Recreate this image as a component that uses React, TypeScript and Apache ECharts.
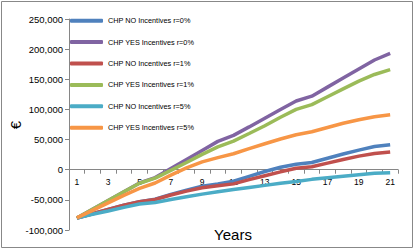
import React, { useEffect, useRef } from "react";
import * as echarts from "echarts";

const years = ["1","2","3","4","5","6","7","8","9","10","11","12","13","14","15","16","17","18","19","20","21"];

const seriesNames = [
  "CHP NO Incentives r=0%",
  "CHP YES Incentives r=0%",
  "CHP NO Incentives r=1%",
  "CHP YES Incentives r=1%",
  "CHP NO Incentives r=5%",
  "CHP YES Incentives r=5%",
];

const noR0 = [-80000,-73000,-66000,-59000,-53000,-49000,-41000,-34000,-27500,-23500,-19000,-11000,-3000,4000,9000,12000,19000,26000,32500,38500,41500];
const yesR0 = [-80000,-65500,-51000,-36500,-22000,-13000,2000,17000,32000,47000,57000,71000,85500,100000,114000,122000,137000,152000,167000,182000,193000];
const noR1 = [-80000,-73000,-66000,-59000,-53000,-49500,-42000,-35500,-30000,-26500,-23500,-16500,-10000,-3500,2500,5000,11000,17000,22500,27000,29500];
const yesR1 = [-80000,-65500,-51000,-36500,-22500,-14000,-1000,12000,25500,38000,47500,60000,73000,87000,100000,108000,121000,134000,147000,158000,166000];
const noR5 = [-80000,-74000,-68500,-62500,-57000,-54500,-49500,-45000,-40500,-36500,-33000,-29500,-26000,-22500,-19500,-16000,-13500,-11000,-8500,-6000,-5000];
const yesR5 = [-80000,-67500,-55000,-42500,-31000,-22000,-9000,3000,13000,20000,26500,35000,43000,51000,58000,63000,70000,77000,83000,88000,91000];

const xTitle = "Years";
const yTitle = "€";

const yMin = -100000;
const yMax = 250000;

const colors = ["#4F81BD", "#8064A2", "#C0504D", "#9BBB59", "#4BACC6", "#F79646"];
const allData = [noR0, yesR0, noR1, yesR1, noR5, yesR5];

export default function App() {
  const ref = useRef<HTMLDivElement>(null);
  useEffect(() => {
    if (!ref.current) return;
    const chart = echarts.init(ref.current, undefined, { renderer: "svg" });
    const font = "Liberation Sans";
    const gridTop = 19;
    const gridBottom = 19;
    const plotH = 249 - gridTop - gridBottom;
    // shift x axis up from the grid bottom to the value 0
    const zeroOffset = -plotH * (0 - yMin) / (yMax - yMin);
    chart.setOption({
      animation: false,
      backgroundColor: "#ffffff",
      color: colors,
      graphic: [
        {
          type: "rect",
          shape: { x: 1.5, y: 1.5, width: 411, height: 246 },
          style: { fill: "none", stroke: "#888888", lineWidth: 1 },
          silent: true,
        },
        {
          type: "text",
          x: 233,
          y: 234,
          style: {
            text: xTitle,
            fontFamily: font,
            fontSize: 15,
            fill: "#000",
            align: "center",
            verticalAlign: "middle",
          },
        },
        {
          type: "text",
          x: 15,
          y: 125,
          rotation: Math.PI / 2,
          style: {
            text: yTitle,
            fontFamily: font,
            fontSize: 15,
            fill: "#000",
            align: "center",
            verticalAlign: "middle",
          },
        },
      ],
      legend: {
        orient: "vertical",
        left: 70,
        top: 15.7,
        itemWidth: 33,
        itemHeight: 4,
        itemGap: 11.4,
        icon: "roundRect",
        padding: 0,
        data: seriesNames,
        textStyle: { fontFamily: font, fontSize: 7.3, color: "#000", lineHeight: 10 },
      },
      grid: { left: 69, right: 16, top: gridTop, bottom: gridBottom, containLabel: false, outerBoundsMode: "none" },
      xAxis: {
        type: "category",
        data: years,
        boundaryGap: true,
        position: "bottom",
        offset: zeroOffset,
        axisLine: { onZero: false, lineStyle: { color: "#868686", width: 1 } },
        axisTick: { show: true, interval: 0, length: 4, lineStyle: { color: "#868686" } },
        axisLabel: { interval: 1, fontFamily: font, fontSize: 8.5, color: "#000", margin: 8 },
        splitLine: { show: false },
      },
      yAxis: {
        type: "value",
        min: yMin,
        max: yMax,
        interval: 50000,
        axisLine: { show: true, lineStyle: { color: "#868686", width: 1 } },
        axisTick: { show: true, length: 4, lineStyle: { color: "#868686" } },
        axisLabel: {
          fontFamily: font,
          fontSize: 9.5,
          color: "#000",
          margin: 6,
          formatter: (v: number) => v.toLocaleString("en-US"),
        },
        splitLine: { show: false },
      },
      series: seriesNames.map((name, i) => ({
        name,
        type: "line",
        data: allData[i],
        showSymbol: false,
        symbol: "none",
        lineStyle: { width: 3.5, color: colors[i] },
        itemStyle: { color: colors[i] },
      })),
    });
    return () => chart.dispose();
  }, []);
  return (
    <div
      ref={ref}
      style={{ position: "absolute", left: 0, top: 0, width: 414, height: 249 }}
    />
  );
}
